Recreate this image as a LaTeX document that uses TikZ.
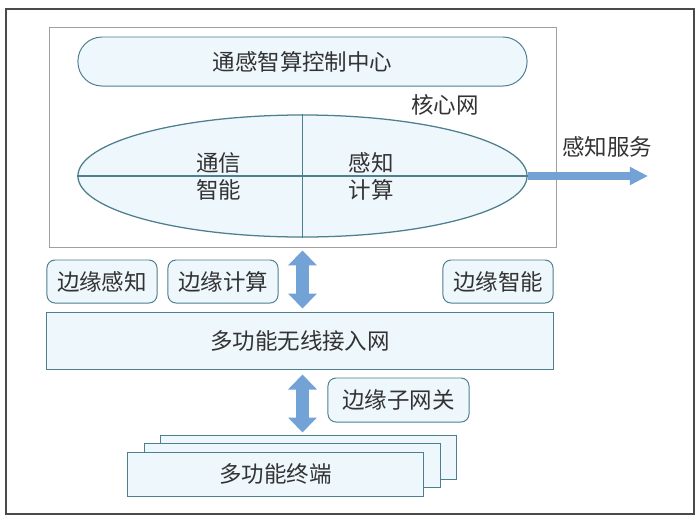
\documentclass[tikz,border=0pt]{standalone}
\usepackage{fontspec}
\usetikzlibrary{shapes.geometric, arrows.meta}
\newfontfamily\cjk{Noto Sans CJK SC}
\definecolor{boxfill}{HTML}{EEF7FC}
\definecolor{boxline}{HTML}{4E7F8E}
\definecolor{flowblue}{HTML}{72A2D6}
\definecolor{txtgray}{HTML}{333333}
\definecolor{framegray}{HTML}{4A4A4A}
\definecolor{coregray}{HTML}{A0A0A0}
\tikzset{
  box/.style={draw=boxline, fill=boxfill, line width=0.7pt, inner sep=0pt},
  tag/.style={box, rounded corners=0.2cm, minimum width=2.75cm, minimum height=1.075cm},
  biflow/.style={draw=flowblue, line width=0.325cm,
    {Triangle[width=0.7cm,length=0.375cm]}-{Triangle[width=0.7cm,length=0.375cm]}},
  svcflow/.style={draw=flowblue, line width=0.2cm,
    -{Triangle[width=0.425cm,length=0.45cm]}}
}

\begin{document}
\begin{tikzpicture}[x=0.025cm, y=-0.025cm,
  every node/.style={text=txtgray, font=\cjk\fontsize{16}{19}\selectfont}]
\useasboundingbox (0,0) rectangle (700,522);
\draw[framegray, line width=1pt] (6,9) rectangle (694,514);

\node[draw=coregray, line width=0.6pt, minimum width=12.675cm, minimum height=5.5cm]
  at (302.5,137) (core) {};
\node[box, rounded corners=0.6cm, minimum width=11.225cm, minimum height=1.225cm]
  at (302.5,61.5) (ctrl) {通感智算控制中心};
\node at (445,105) (corelabel) {核心网};
\node[box, ellipse, line width=0.9pt, minimum width=11.225cm, minimum height=3.05cm]
  at (302.5,176) (ell) {};
\draw[boxline, line width=0.9pt] (ell.west) -- (ell.east);
\draw[boxline, line width=0.9pt] (ell.north) -- (ell.south);
\node[align=center] at (219,176.5) (comm) {通信\\智能};
\node[align=center] at (371,176.5) (sense) {感知\\计算};
\coordinate (svc) at (648,176);
\node at (607,147) (svclabel) {感知服务};
\draw[svcflow] (ell.east) -- (svc);

\node[tag] at (102,281.5) (esense) {边缘感知};
\node[tag] at (223,281.5) (ecomp) {边缘计算};
\node[tag] at (498,281.5) (eintel) {边缘智能};
\node[box, minimum width=12.65cm, minimum height=1.425cm]
  at (300,340.5) (access) {多功能无线接入网};
\node[tag, minimum width=3.525cm, minimum height=1.1cm]
  at (398.5,400) (gateway) {边缘子网关};

\node[box, minimum width=7.375cm, minimum height=1.1cm] at (308.5,457) (term3) {};
\node[box, minimum width=7.375cm, minimum height=1.1cm] at (292.5,465.5) (term2) {};
\node[box, minimum width=7.375cm, minimum height=1.1cm] at (275.5,474) (term1) {多功能终端};

\draw[biflow] ([yshift=-0.075cm]core.south) -- ([yshift=0.075cm]core.south |- access.north);
\draw[biflow] ([yshift=-0.125cm]core.south |- access.south) -- ([yshift=0.05cm]core.south |- term3.north);
\end{tikzpicture}
\end{document}
